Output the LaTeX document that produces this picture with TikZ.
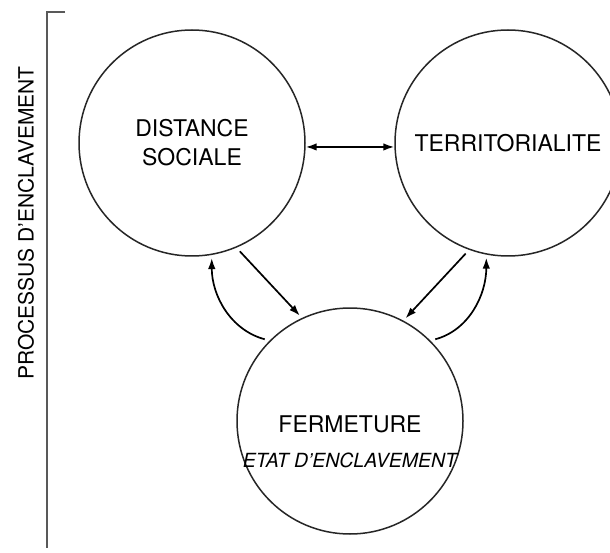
\documentclass[tikz,border=0pt]{standalone}
\usepackage{fontspec}
\setmainfont{TeX Gyre Heros}
\usetikzlibrary{arrows.meta, positioning}
\tikzset{
    cercle/.style={circle, draw=black!85, line width=1.5pt, minimum size=226pt, inner sep=0pt, align=center, font=\fontsize{23}{29}\selectfont},
    arrow/.style={-{Latex[length=11pt, width=7.5pt]}, line width=1.7pt, shorten <=5pt, shorten >=3pt},
    darrow/.style={{Latex[length=11pt, width=7.5pt]}-{Latex[length=11pt, width=7.5pt]}, line width=1.7pt},
    titre/.style={font=\fontsize{23}{29}\selectfont, inner sep=0pt},
    etat/.style={font=\fontsize{19.5}{22}\selectfont\itshape, inner sep=0pt},
    process/.style={font=\fontsize{21}{25}\selectfont, rotate=90, inner sep=0pt},
    bracket/.style={draw=black!65, line width=2pt}
}
\begin{document}
\begin{tikzpicture}[x=1pt, y=1pt]
        \useasboundingbox (0,0) rectangle (610,-553);
        \node[cercle] (Dist) at (192,-143) {DISTANCE\\SOCIALE};
        \node[cercle] (Terr) at (508,-143) {TERRITORIALITE};
        \node[cercle] (Ferm) at (350,-421) {};
        \node[titre] (FermTxt) at (350,-424) {FERMETURE};
        \node[etat] (Etat) at (350,-460) {ETAT D'ENCLAVEMENT};
        
        % left side: the process
        \draw[bracket] (65,-12) -- (47,-12) -- (47,-548);
        \node[process] (Proc) at (26,-223) {PROCESSUS D'ENCLAVEMENT};
        
        \draw[darrow] (Dist.-2) -- (Terr.182);
        \draw[arrow] (Dist.-67) -- (Ferm.115);
        \draw[arrow] (Terr.-110) -- (Ferm.62);
        \draw[arrow] (Ferm.135) to[out=165, in=-90] (Dist.-80);
        \draw[arrow] (Ferm.45) to[out=15, in=-90] (Terr.-101);
    \end{tikzpicture}
\end{document}
